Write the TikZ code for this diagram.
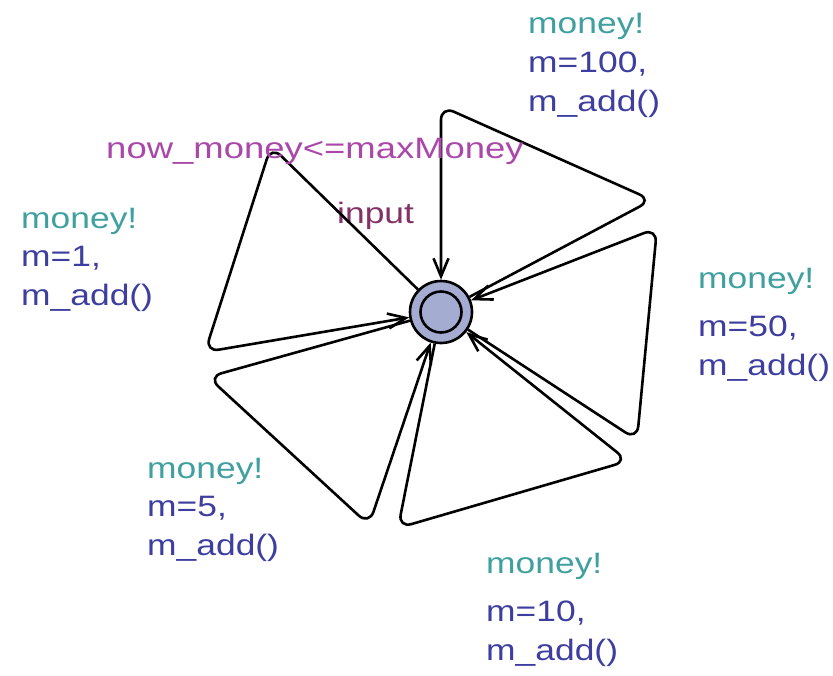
\documentclass[tikz,border=0pt]{standalone}
\usepackage{fontspec}
\setmainfont{Liberation Sans}
\usetikzlibrary{arrows.meta}
\definecolor{syncteal}{RGB}{64,160,160}
\definecolor{updblue}{RGB}{62,62,160}
\definecolor{guardpink}{RGB}{170,72,170}
\definecolor{namered}{RGB}{130,50,100}
\definecolor{locfill}{RGB}{165,172,210}
\begin{document}
\begin{tikzpicture}[x=1pt,y=-1pt,
  selfloop/.style={line width=2.6pt,rounded corners=14pt,-{Straight Barb[length=18pt,width=15pt]}},
  lbl/.style={anchor=base west,inner sep=0pt,transform shape,xscale=1.2,font=\fontsize{29.5}{38.5}\selectfont},
  sync/.style={lbl,text=syncteal},
  upd/.style={lbl,text=updblue,align=left}]
\useasboundingbox (0,0) rectangle (833,675);
% location (initial) with its inner ring
\node[circle,draw,line width=2.6pt,fill=locfill,minimum size=62pt,inner sep=0pt] (s) at (441,312) {};
\node[circle,draw,line width=2.6pt,minimum size=41pt,inner sep=0pt] (si) at (s) {};
\node[lbl,text=namered] (name) at (337,223) {input};
% corners of the five self loops
\coordinate (a100) at (441,106);  \coordinate (b100) at (652,200);
\coordinate (a50) at (657,228);   \coordinate (b50) at (637,440);
\coordinate (a10) at (628,461);   \coordinate (b10) at (398,528);
\coordinate (a5) at (369,525);    \coordinate (b5) at (208,377);
\coordinate (a1) at (205,352);    \coordinate (b1) at (271,146);
\draw[selfloop] (s) -- (b100) -- (a100) -- (s);
\draw[selfloop] (s) -- (b50) -- (a50) -- (s);
\draw[selfloop] (s) -- (b10) -- (a10) -- (s);
\draw[selfloop] (s) -- (b5) -- (a5) -- (s);
\draw[selfloop] (s) -- (b1) -- (a1) -- (s);
% labels (update nodes sit on the baseline of their last line)
\node[lbl,text=guardpink,xscale=1.03] (guard1) at (106,158) {now\_money<=maxMoney};
\node[sync] (sync1) at (21,228) {money!};
\node[upd] (upd1) at (21,305) {m=1,\\m\_add()};
\node[sync] (sync100) at (528,33) {money!};
\node[upd] (upd100) at (528,111) {m=100,\\m\_add()};
\node[sync] (sync50) at (698,288) {money!};
\node[upd] (upd50) at (698,375) {m=50,\\m\_add()};
\node[sync] (sync5) at (147,478) {money!};
\node[upd] (upd5) at (147,555) {m=5,\\m\_add()};
\node[sync] (sync10) at (486,573) {money!};
\node[upd] (upd10) at (486,660) {m=10,\\m\_add()};
\end{tikzpicture}
\end{document}
